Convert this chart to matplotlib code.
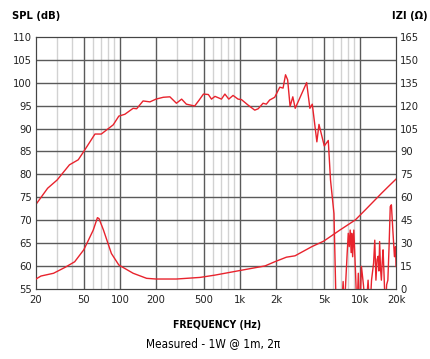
import numpy as np
import matplotlib.pyplot as plt

plt.rcParams['font.family'] = ['DejaVu Sans']
plt.rcParams['font.stretch'] = 'condensed'

# SPL response (dB), values below 55 are off the chart
spl_freq = [20, 25, 30, 38, 45, 50, 62, 70, 88, 98, 110, 129, 138, 156, 178, 200, 230, 261,
            296, 327, 358, 420, 458, 497, 546, 580, 620, 702, 750, 808, 877, 965, 1030, 1170,
            1330, 1420, 1560, 1660, 1770, 1950, 2150, 2290, 2400, 2500, 2620, 2760, 2890,
            3030, 3600, 3830, 4010, 4380, 4560, 5050, 5450, 5690, 6080, 6350, 6600, 7000,
            7250, 7400, 7830, 8000, 8150, 8300, 8450, 8550, 8700, 8900, 9200, 9450, 9700,
            10000, 10300, 10700, 11200, 11700, 12100, 12500, 13000, 13300, 13600, 13900,
            14200, 14400, 14600, 14850, 15100, 15350, 15600, 15900, 16300, 16700, 17100,
            17500, 17900, 18300, 18800, 19400, 19800, 20000]
spl_db = [73.5, 77.0, 78.8, 82.1, 83.2, 85.0, 88.8, 88.8, 90.8, 92.7, 93.1, 94.4, 94.3, 96.0,
          95.8, 96.4, 96.8, 96.9, 95.5, 96.4, 95.3, 94.9, 96.2, 97.5, 97.4, 96.4, 97.0, 96.4,
          97.5, 96.4, 97.2, 96.4, 96.3, 95.1, 94.0, 94.3, 95.5, 95.3, 96.2, 96.8, 99.0, 98.8,
          101.7, 100.6, 94.8, 96.9, 94.4, 95.6, 100.0, 94.4, 95.3, 87.1, 90.9, 86.2, 87.4,
          78.8, 71.5, 50, 50, 50, 56.7, 50, 62.8, 67.2, 64.3, 67.9, 63.0, 67.2, 62.1, 67.9,
          58.5, 50, 58.5, 50, 60.0, 56.0, 50, 57.0, 50, 57.0, 60.7, 65.7, 57.0, 61.5, 62.2,
          59.0, 65.4, 59.5, 57.0, 61.0, 63.6, 58.0, 50, 56.0, 57.0, 64.3, 73.0, 73.4, 68.0,
          62.1, 64.3, 60.0]

# impedance (ohm)
imp_freq = [20, 22, 28, 35, 42, 50, 54, 60, 65, 67, 73, 85, 98, 129, 167, 200, 296, 466, 620,
            1000, 1620, 1950, 2440, 2880, 3980, 5000, 6810, 9150, 11100, 15130, 17300, 20000]
imp_ohm = [6.75, 8.7, 10.5, 14.4, 18.0, 25.8, 31.2, 38.7, 46.8, 46.2, 38.7, 23.4, 15.9, 10.5,
           7.2, 6.75, 6.75, 7.8, 9.3, 12.3, 15.3, 18.0, 21.0, 21.9, 27.9, 31.5, 38.7, 45.3,
           51.9, 62.7, 67.2, 72.0]

major_f = [50, 100, 200, 500, 1000, 2000, 5000, 10000]
minor_f = [30, 40, 60, 70, 80, 90, 300, 400, 600, 700, 800, 900,
           3000, 4000, 6000, 7000, 8000, 9000]
xticks = [20, 50, 100, 200, 500, 1000, 2000, 5000, 10000, 20000]
xlabels = ['20', '50', '100', '200', '500', '1k', '2k', '5k', '10k', '20k']

red = '#e8232d'
fig = plt.figure(figsize=(4.30, 3.59), dpi=100)
ax = fig.add_axes([0.0837, 0.194, 0.8373, 0.704])
ax.set_xscale('log')
ax.set_xlim(20, 20000)
ax.set_ylim(55, 110)

for f in minor_f:
    ax.axvline(f, color='#d2d2d2', lw=1.0, zorder=1)
for f in major_f:
    ax.axvline(f, color='#5a5a5a', lw=1.0, zorder=1)
for y in range(60, 110, 5):
    ax.axhline(y, color='#5a5a5a', lw=1.0, zorder=1)

ax.plot(spl_freq, spl_db, color=red, lw=1.0, zorder=3)

ax2 = ax.twinx()
ax2.set_ylim(0, 165)
ax2.plot(imp_freq, imp_ohm, color=red, lw=1.0, zorder=3)

ax.set_xticks(xticks)
ax.set_xticklabels(xlabels)
ax.minorticks_off()
ax.set_yticks(range(55, 111, 5))
ax2.set_yticks(range(0, 166, 15))
for a in (ax, ax2):
    a.tick_params(length=0, labelsize=8, colors='#222222')
    for s in a.spines.values():
        s.set_color('#444444')
ax.tick_params(axis='x', pad=4)
ax.tick_params(axis='y', pad=3)
ax2.tick_params(axis='y', pad=3)

fig.text(0.028, 0.955, 'SPL (dB)', fontsize=8, fontweight='bold', va='center')
fig.text(0.912, 0.955, 'IZI (\u03a9)', fontsize=8, fontweight='bold', va='center')
fig.text(0.505, 0.094, 'FREQUENCY (Hz)', fontsize=7.5, fontweight='bold', ha='center', va='center')
fig.text(0.495, 0.044, 'Measured - 1W @ 1m, 2\u03c0', fontsize=8.5, ha='center', va='center')

fig.savefig('out.png', dpi=100)
